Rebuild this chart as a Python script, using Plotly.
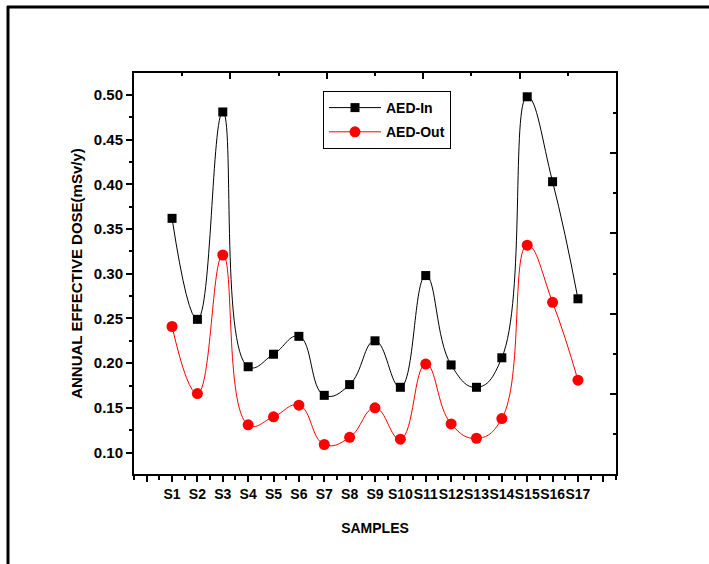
import plotly.graph_objects as go

samples = [f"S{i}" for i in range(1, 18)]
x_pos = list(range(1, 18))
aed_in = [0.362, 0.249, 0.481, 0.196, 0.210, 0.230, 0.164, 0.176, 0.225,
          0.173, 0.298, 0.198, 0.173, 0.206, 0.498, 0.403, 0.272]
aed_out = [0.241, 0.166, 0.321, 0.131, 0.140, 0.153, 0.109, 0.117, 0.150,
           0.115, 0.199, 0.132, 0.116, 0.138, 0.332, 0.268, 0.181]
y_ticks = [0.10, 0.15, 0.20, 0.25, 0.30, 0.35, 0.40, 0.45, 0.50]

FONT = "Liberation Sans, Arial, sans-serif"
L, R, T, B = 134, 616, 73, 474
W, H = 709, 564

fig = go.Figure()
fig.add_trace(go.Scatter(
    x=x_pos, y=aed_in, name="AED-In", mode="lines+markers", legendgroup="a",
    line=dict(color="black", width=1, shape="spline", smoothing=1.3),
    marker=dict(symbol="square", size=9, color="black")))
fig.add_trace(go.Scatter(
    x=x_pos, y=aed_out, name="AED-Out", mode="lines+markers", legendgroup="b",
    line=dict(color="red", width=1, shape="spline", smoothing=1.3),
    marker=dict(symbol="circle", size=11, color="red")))
# invisible trace to carry the mirrored top/right axes
fig.add_trace(go.Scatter(x=[0, 5], y=[0, 5], xaxis="x2", yaxis="y2",
                         mode="markers", marker=dict(opacity=0),
                         showlegend=False, hoverinfo="skip"))

tickvals = list(range(0, 19))
ticktext = [""] + samples + [""]

fig.update_layout(
    width=W, height=H,
    margin=dict(l=L, r=W - R, t=T, b=H - B, autoexpand=False),
    paper_bgcolor="white", plot_bgcolor="white",
    font=dict(family=FONT, size=13, color="black"),
    showlegend=True,
    legend=dict(x=(323 - L) / (R - L), y=(B - 91) / (B - T),
                xanchor="left", yanchor="top",
                bordercolor="black", borderwidth=1, bgcolor="white",
                font=dict(family=FONT, size=14, color="black", weight="bold"),
                itemwidth=52, tracegroupgap=3),
    xaxis=dict(range=[-0.5, 18.5], tickvals=tickvals, ticktext=ticktext,
               tickangle=0, automargin=False,
               ticks="outside", ticklen=6, tickwidth=1.5, tickcolor="black",
               minor=dict(dtick=0.5, tick0=0, ticks="outside", ticklen=4,
                          tickwidth=1.5, tickcolor="black"),
               showline=True, linecolor="black", linewidth=2,
               showgrid=False, zeroline=False,
               tickfont=dict(family=FONT, size=14, weight="bold"),
               title=dict(text="SAMPLES", standoff=22,
                          font=dict(family=FONT, size=14, weight="bold"))),
    yaxis=dict(range=[0.076, 0.5246], tickvals=y_ticks,
               ticktext=[f"{v:.2f}" for v in y_ticks], automargin=False,
               ticks="outside", ticklen=6, tickwidth=1.5, tickcolor="black",
               minor=dict(dtick=0.025, tick0=0.1, ticks="outside", ticklen=3,
                          tickwidth=1.5, tickcolor="black"),
               showline=True, linecolor="black", linewidth=2,
               showgrid=False, zeroline=False,
               tickfont=dict(family=FONT, size=15, weight="bold"),
               title=dict(text="ANNUAL EFFECTIVE DOSE(mSv/y)", standoff=8,
                          font=dict(family=FONT, size=15, weight="bold"))),
    xaxis2=dict(overlaying="x", side="top", anchor="y", range=[0, 5],
                dtick=1, tick0=0, ticks="inside", ticklen=6, tickwidth=1.5,
                tickcolor="black", automargin=False,
                minor=dict(dtick=0.5, ticks="inside", ticklen=3,
                           tickwidth=1.5, tickcolor="black"),
                showticklabels=False, showline=True, linecolor="black",
                linewidth=2, showgrid=False, zeroline=False),
    yaxis2=dict(overlaying="y", side="right", anchor="x", range=[0, 5],
                dtick=1, tick0=0, ticks="inside", ticklen=6, tickwidth=1.5,
                tickcolor="black", automargin=False,
                minor=dict(dtick=0.5, ticks="inside", ticklen=3,
                           tickwidth=1.5, tickcolor="black"),
                showticklabels=False, showline=True, linecolor="black",
                linewidth=2, showgrid=False, zeroline=False),
)

# outer page frame (top and left edges visible)
def px_x(p):
    return (p - L) / (R - L)

def px_y(p):
    return (B - p) / (B - T)

fig.add_shape(type="line", xref="paper", yref="paper",
              x0=px_x(7), x1=px_x(712), y0=px_y(7), y1=px_y(7),
              line=dict(color="black", width=3))
fig.add_shape(type="line", xref="paper", yref="paper",
              x0=px_x(8), x1=px_x(8), y0=px_y(6), y1=px_y(570),
              line=dict(color="black", width=3))

fig.write_html("out.html",
               config={"displayModeBar": False},
               post_script="document.body.style.margin='0';"
                           "document.body.style.overflow='hidden';")
